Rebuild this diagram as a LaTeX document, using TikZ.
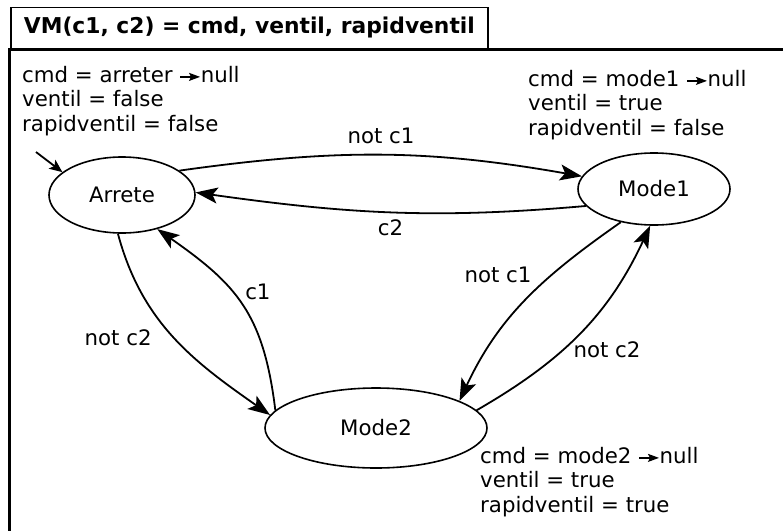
\documentclass[tikz,border=0pt]{standalone}
\usepackage{fontspec}
\setmainfont{DejaVu Sans}
\usetikzlibrary{arrows.meta, shapes.geometric}
\newcommand{\statefont}{\fontsize{21.3pt}{24.5pt}\selectfont}
\newcommand{\tonull}{\tikz[baseline=-5.5pt]\draw[line width=1.4pt, -{Stealth[length=11pt, width=8pt, inset=2pt]}] (0pt,0pt) -- (20pt,0pt);}
\tikzset{
  state/.style={draw, ellipse, line width=1.6pt, inner sep=0pt, font=\statefont},
  titlebox/.style={draw, line width=1.8pt, anchor=north west, inner sep=0pt, font=\fontsize{21.8pt}{24.5pt}\selectfont\bfseries},
  outerframe/.style={line width=2.5pt},
  note/.style={anchor=north west, align=left, inner sep=0pt, font=\statefont},
  trans/.style={-{Stealth[length=22pt, width=16pt, inset=5pt]}, line width=1.8pt},
  initarrow/.style={-{Stealth[length=13pt, width=11pt, inset=3pt]}, line width=1.8pt},
  edgelabel/.style={font=\statefont, inner sep=2pt}
}
\begin{document}
\begin{tikzpicture}[x=1pt, y=1pt]
  \path[use as bounding box, clip] (0,0) rectangle (783,-530);
  \draw[outerframe] (9.5,-560) |- (820,-49.5);
  \node[titlebox, minimum width=477pt, minimum height=41pt, yshift=1.5pt] (title) at (10,-8) {VM(c1, c2) = cmd, ventil, rapidventil};

  % states
  \node[state, minimum width=146pt, minimum height=76pt] (arrete) at (122,-195) {Arrete};
  \node[state, minimum width=152pt, minimum height=72pt] (mode1) at (654,-189) {Mode1};
  \node[state, minimum width=222pt, minimum height=80pt] (mode2) at (376,-428) {Mode2};

  % outputs of each state
  \node[note] (arretenote) at (22,-66) {cmd = arreter \tonull null\\ ventil = false\\ rapidventil = false};
  \node[note] (mode1note) at (528,-70) {cmd = mode1 \tonull null\\ ventil = true\\ rapidventil = false};
  \node[note] (mode2note) at (480,-447) {cmd = mode2 \tonull null\\ ventil = true\\ rapidventil = true};

  \coordinate (init) at (36,-152);
  \draw[initarrow] (init) -- (arrete.159);

  % transitions
  \draw[trans] (arrete.23) to[out=8, in=170] node[edgelabel, above=8pt] {not c1} (mode1.170);
  \draw[trans] (mode1.-166) to[out=185, in=-8] node[edgelabel, below=5pt] {c2} (arrete.2);
  \draw[trans] (arrete.-96) to[out=-75, in=145] node[edgelabel, left=20pt] {not c2} (mode2.173);
  \draw[trans] (mode2.170) to[out=97, in=-35, looseness=1.15] node[edgelabel, pos=0.58, right=10pt] {c1} (arrete.-44);
  \draw[trans] (mode1.-135) to[out=215, in=65] node[edgelabel, pos=0.34, left=18pt] {not c1} (mode2.18);
  \draw[trans] (mode2.10) to[out=30, in=-115] node[edgelabel, pos=0.4, right=8pt] {not c2} (mode1.-96);
\end{tikzpicture}
\end{document}
